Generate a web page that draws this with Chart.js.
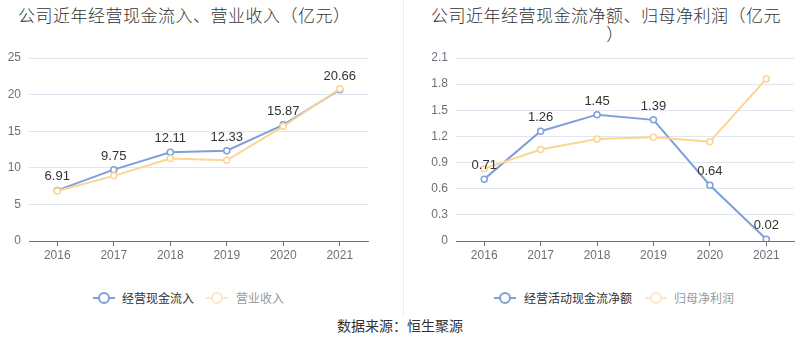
<!DOCTYPE html>
<html>
<head>
<meta charset="utf-8">
<script src="https://cdn.jsdelivr.net/npm/chart.js@4/dist/chart.umd.min.js"></script>
<style>
  body { margin: 0; background: #fff; font-family: "Noto Sans CJK SC", sans-serif; }
  #page { position: relative; width: 800px; height: 358px; overflow: hidden; }
  .box { position: absolute; }
  .title { position: absolute; font-size: 17px; line-height: 19px; color: #333; white-space: nowrap; letter-spacing: 0.5px; font-weight: 300; }
  .legend { position: absolute; top: 290px; height: 16px; display: flex; align-items: center; font-size: 12px; }
  .legend span { line-height: 16px; }
  #divider { position: absolute; left: 403px; top: 0; width: 1px; height: 317px; background: #eeeeee; }
  #source { position: absolute; left: 0; width: 800px; top: 316px; text-align: center; font-size: 14px; line-height: 18px; color: #333; }
</style>
</head>
<body>
<div id="page">
  <div class="title" style="left:18px; top:5px;">公司近年经营现金流入、营业收入（亿元）</div>
  <div class="title" style="left:426px; top:5px; width:360px; text-align:center;">公司近年经营现金流净额、归母净利润（亿元<br><span style="padding-left:18px;">）</span></div>

  <div class="box" style="left:0; top:0; width:400px; height:276px;"><canvas id="leftChart"></canvas></div>
  <div class="box" style="left:404px; top:0; width:396px; height:276px;"><canvas id="rightChart"></canvas></div>

  <div class="legend" id="leftLegend" style="left:93px;"></div>
  <div class="legend" id="rightLegend" style="left:494px;"></div>

  <div id="divider"></div>
  <div id="source">数据来源：恒生聚源</div>
</div>

<script>
// --- データ ---
const years = ['2016', '2017', '2018', '2019', '2020', '2021'];

// 左: 経営現金流入 / 営業収入
const cashInflow = [6.91, 9.75, 12.11, 12.33, 15.87, 20.66];
const revenue = [6.82, 8.9, 11.26, 11.03, 15.67, 20.8];
const leftLabels = ['经营现金流入', '营业收入'];
const leftMax = 25;
const leftStep = 5;

// 右: 経営活動現金流浄額 / 帰母浄利潤
const netCashFlow = [0.71, 1.26, 1.45, 1.39, 0.64, 0.02];
const netProfit = [0.83, 1.05, 1.17, 1.19, 1.14, 1.86];
const rightLabels = ['经营活动现金流净额', '归母净利润'];
const rightMax = 2.1;
const rightStep = 0.3;

const BLUE = '#7f9fd8';
const YELLOW = '#fcd591';
const NUM_FONT = '"Liberation Sans", "Noto Sans CJK SC", sans-serif';

// 青系列の点の上に数値ラベルを描く
const pointLabelPlugin = {
  id: 'pointLabels',
  afterDatasetsDraw(chart) {
    const ctx = chart.ctx;
    chart.data.datasets.forEach((ds, i) => {
      if (!ds.showLabels) return;
      const meta = chart.getDatasetMeta(i);
      ctx.save();
      ctx.font = '13px ' + NUM_FONT;
      ctx.fillStyle = '#333';
      ctx.textAlign = 'center';
      ctx.textBaseline = 'bottom';
      meta.data.forEach((pt, j) => {
        ctx.fillText(ds.data[j].toFixed(2), pt.x, pt.y - 7);
      });
      ctx.restore();
    });
  }
};

function makeChart(id, seriesA, seriesB, labels, yMax, yStep, yWidth, padRight) {
  const ctx = document.getElementById(id).getContext('2d');
  return new Chart(ctx, {
    type: 'line',
    data: {
      labels: years,
      datasets: [
        {
          label: labels[0],
          data: seriesA,
          borderColor: BLUE,
          backgroundColor: '#fff',
          pointBackgroundColor: '#fff',
          pointBorderColor: BLUE,
          borderWidth: 2,
          pointRadius: 3,
          pointBorderWidth: 1.5,
          tension: 0,
          order: 1,
          showLabels: true
        },
        {
          label: labels[1],
          data: seriesB,
          borderColor: YELLOW,
          backgroundColor: '#fff',
          pointBackgroundColor: '#fff',
          pointBorderColor: YELLOW,
          borderWidth: 2,
          pointRadius: 3,
          pointBorderWidth: 1.5,
          tension: 0,
          order: 0
        }
      ]
    },
    options: {
      responsive: true,
      maintainAspectRatio: false,
      animation: false,
      layout: { padding: { top: 58, bottom: 5, left: 0, right: padRight } },
      scales: {
        x: {
          offset: true,
          grid: { display: true, drawOnChartArea: false, drawTicks: true, tickLength: 5, color: '#6e7079', offset: false },
          border: { display: true, color: '#6e7079', width: 1 },
          ticks: { color: '#6e7079', font: { size: 12, family: NUM_FONT }, padding: 2, maxRotation: 0 },
          afterFit(scale) { scale.height = 30; }
        },
        y: {
          min: 0,
          max: yMax,
          grid: { color: '#e0e6f1', drawTicks: false },
          border: { display: false },
          ticks: {
            stepSize: yStep,
            color: '#6e7079',
            font: { size: 12, family: NUM_FONT },
            padding: 8,
            callback: v => String(Number(v.toFixed(1)))
          },
          afterFit(scale) { scale.width = yWidth; }
        }
      },
      plugins: {
        legend: { display: false },
        title: { display: false },
        tooltip: { enabled: false }
      }
    },
    plugins: [pointLabelPlugin]
  });
}

makeChart('leftChart', cashInflow, revenue, leftLabels, leftMax, leftStep, 29, 32);
makeChart('rightChart', netCashFlow, netProfit, rightLabels, rightMax, rightStep, 52, 4);

// 凡例 (線 + 中抜き円)
function marker(color) {
  return '<svg width="22" height="14" viewBox="0 0 22 14">' +
    '<line x1="0" y1="7" x2="22" y2="7" stroke="' + color + '" stroke-width="2"/>' +
    '<circle cx="11" cy="7" r="5" fill="#fff" stroke="' + color + '" stroke-width="2"/></svg>';
}
function buildLegend(id, labels, gaps) {
  const el = document.getElementById(id);
  el.innerHTML =
    marker(BLUE) + '<span style="margin-left:' + gaps[0] + 'px;color:#333;">' + labels[0] + '</span>' +
    '<span style="display:inline-block;width:' + gaps[1] + 'px;"></span>' +
    marker('#fde6c2') + '<span style="margin-left:' + gaps[2] + 'px;color:#999;">' + labels[1] + '</span>';
}
buildLegend('leftLegend', leftLabels, [7, 12, 8]);
buildLegend('rightLegend', rightLabels, [8, 13, 7]);
</script>
</body>
</html>
